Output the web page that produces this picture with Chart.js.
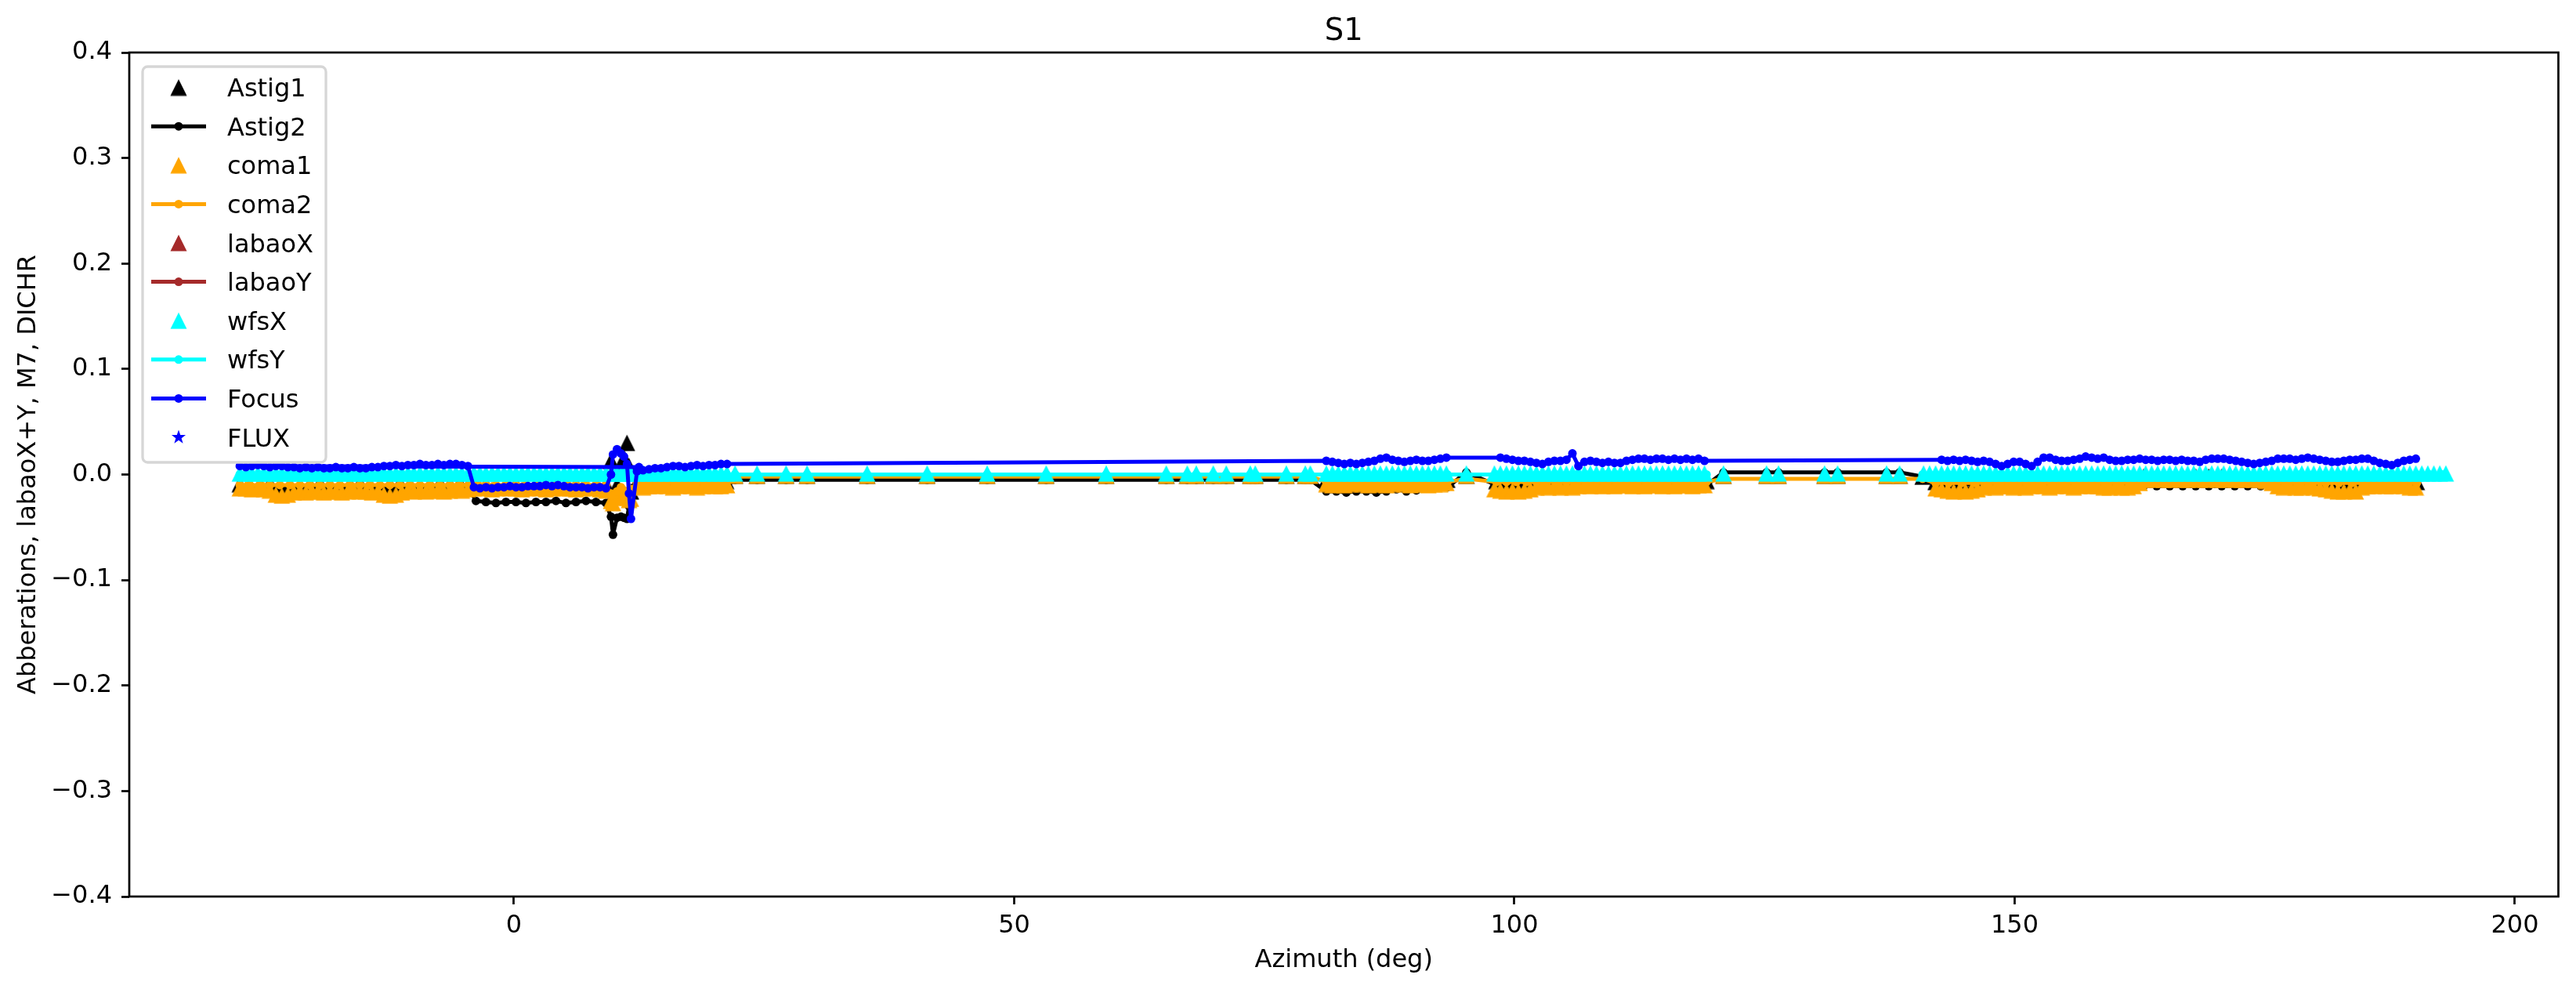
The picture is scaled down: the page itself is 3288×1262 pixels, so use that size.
<!DOCTYPE html>
<html><head><meta charset="utf-8">
<script src="https://cdn.jsdelivr.net/npm/chart.js@4/dist/chart.umd.min.js"></script>
<style>html,body{margin:0;padding:0;background:#fff}canvas{display:block}</style>
</head><body>
<canvas id="c" width="3288" height="1262"></canvas>
<script>
// ---------------- DATA ----------------
const chartTitle = 'S1';
const xAxisLabel = 'Azimuth (deg)';
const yAxisLabel = 'Abberations, labaoX+Y, M7, DICHR';
const seriesNames = ['Astig1','Astig2','coma1','coma2','labaoX','labaoY','wfsX','wfsY','Focus','FLUX'];
const xTicks = [0, 50, 100, 150, 200];
const yTicks = [-0.4, -0.3, -0.2, -0.1, 0, 0.1, 0.2, 0.3, 0.4];

// dense, time-ordered azimuth samples (deg) used by coma1, wfsX and Focus
const azDense = [
 12.5,
 -27.4,-26.8,-26.2,-25.6,-25.0,-24.4,-23.8,-23.2,-22.6,-22.0,-21.4,-20.8,-20.2,-19.6,-19.0,-18.4,-17.8,-17.2,-16.6,-16.0,
 -15.4,-14.8,-14.2,-13.6,-13.0,-12.4,-11.8,-11.2,-10.6,-10.0,-9.4,-8.8,-8.2,-7.6,-7.0,-6.4,-5.8,-5.2,-4.6,
 -4.0,-3.4,-2.8,-2.2,-1.6,-1.0,-0.4,0.2,0.8,1.4,2.0,2.6,3.2,3.8,4.4,5.0,5.6,6.2,6.8,7.4,8.0,8.6,9.2,
 9.7,9.9,10.3,10.7,11.0,11.3,11.5,11.7,
 12.3,12.9,13.5,14.1,14.7,15.3,15.9,16.5,17.1,17.7,18.3,18.9,19.5,20.1,20.7,21.3,
 22.1,24.3,27.2,29.3,35.3,41.3,47.3,53.2,59.2,65.2,67.3,68.2,69.9,71.2,73.6,74.1,77.2,79.1,79.6,
 81.2,81.8,82.4,83.0,83.6,84.2,84.8,85.4,86.0,86.6,87.2,87.8,88.4,89.0,89.6,90.2,90.8,91.4,92.0,92.6,93.2,
 95.2,
 98.0,98.6,99.2,99.8,100.4,101.0,101.6,102.2,102.8,103.4,104.0,104.6,105.2,105.8,106.4,107.0,107.6,108.2,108.8,109.4,
 110.0,110.6,111.2,111.8,112.4,113.0,113.6,114.2,114.8,115.4,116.0,116.6,117.2,117.8,118.4,119.0,
 120.9,125.2,126.4,131.0,132.3,137.2,138.5,
 140.9,141.5,142.1,142.7,143.3,143.9,144.5,145.1,145.7,146.3,146.9,147.5,148.1,148.7,149.3,149.9,150.5,151.1,151.7,152.3,
 152.9,153.5,154.1,154.7,155.3,155.9,156.5,157.1,157.7,158.3,158.9,159.5,160.1,160.7,161.3,161.9,162.5,163.1,163.7,164.3,
 164.9,165.5,166.1,166.7,167.3,167.9,168.5,169.1,169.7,170.3,170.9,171.5,172.1,172.7,173.3,173.9,174.5,175.1,175.7,176.3,
 176.9,177.5,178.1,178.7,179.3,179.9,180.5,181.1,181.7,182.3,182.9,183.5,184.1,184.7,185.3,185.9,186.5,187.1,187.7,188.3,
 188.9,189.5,190.1,190.7,191.3,191.9,192.5,193.1
];
const coma1 = [
 null,
 -0.013,-0.013,-0.014,-0.013,-0.014,-0.015,-0.019,-0.020,-0.019,-0.017,-0.016,-0.017,-0.016,-0.016,-0.017,-0.016,-0.016,-0.017,-0.016,-0.015,
 -0.016,-0.016,-0.017,-0.016,-0.019,-0.020,-0.019,-0.017,-0.015,-0.016,-0.015,-0.016,-0.015,-0.015,-0.016,-0.015,-0.014,-0.015,-0.014,
 -0.013,-0.012,-0.013,-0.014,-0.013,-0.012,-0.013,-0.013,-0.014,-0.013,-0.012,-0.013,-0.014,-0.013,-0.012,-0.013,-0.013,-0.014,-0.013,-0.012,-0.013,-0.014,-0.015,
 -0.025,-0.027,-0.022,-0.016,-0.020,-0.022,-0.024,-0.023,
 -0.011,-0.012,-0.011,-0.011,-0.010,-0.011,-0.012,-0.011,-0.010,-0.011,-0.012,-0.011,-0.010,-0.011,-0.011,-0.010,
 -0.001,-0.001,-0.001,-0.001,-0.001,-0.001,-0.001,-0.001,-0.001,-0.001,-0.001,-0.001,-0.001,-0.001,-0.001,-0.001,-0.001,-0.001,-0.001,
 -0.009,-0.010,-0.009,-0.010,-0.009,-0.008,-0.009,-0.010,-0.009,-0.009,-0.010,-0.009,-0.008,-0.009,-0.010,-0.009,-0.009,-0.010,-0.009,-0.009,-0.008,
 -0.001,
 -0.014,-0.015,-0.016,-0.015,-0.016,-0.015,-0.014,-0.012,-0.011,-0.012,-0.011,-0.012,-0.011,-0.012,-0.011,-0.010,-0.011,-0.010,-0.011,-0.010,
 -0.011,-0.010,-0.010,-0.011,-0.010,-0.011,-0.010,-0.010,-0.011,-0.010,-0.011,-0.010,-0.010,-0.011,-0.010,-0.010,
 -0.001,-0.001,-0.001,-0.001,-0.001,-0.001,-0.001,
 null,null,-0.013,-0.014,-0.015,-0.016,-0.015,-0.016,-0.015,-0.014,-0.012,-0.011,-0.012,-0.011,-0.011,-0.012,-0.011,-0.012,-0.011,-0.010,
 -0.011,-0.012,-0.011,-0.010,-0.011,-0.012,-0.011,-0.010,-0.011,-0.011,-0.012,-0.012,-0.011,-0.012,-0.012,-0.011,-0.008,-0.005,-0.005,-0.004,
 -0.005,-0.005,-0.004,-0.005,-0.005,-0.004,-0.005,-0.005,-0.004,-0.005,-0.005,-0.004,-0.005,-0.005,-0.004,-0.005,-0.005,-0.006,-0.008,-0.011,
 -0.012,-0.011,-0.012,-0.012,-0.011,-0.012,-0.013,-0.014,-0.015,-0.016,-0.016,-0.015,-0.016,-0.012,-0.011,-0.011,-0.010,-0.011,-0.011,-0.010,
 -0.011,-0.012,-0.012,null,null,null,null,null
];
const wfsX = [
 null,
 0.001,0.001,0.001,0.001,0.001,0.001,0.001,0.001,0.001,0.001,0.001,0.001,0.001,0.001,0.001,0.001,0.001,0.001,0.001,0.001,
 0.001,0.001,0.001,0.001,0.001,0.001,0.001,0.001,0.001,0.001,0.001,0.001,0.001,0.001,0.001,0.001,0.001,0.001,0.001,
 0.001,0.001,0.001,0.001,0.001,0.001,0.001,0.001,0.001,0.001,0.001,0.001,0.001,0.001,0.001,0.001,0.001,0.001,0.001,0.001,0.001,0.001,0.001,
 0.001,0.001,0.001,0.001,0.001,0.001,0.001,0.001,
 0.001,0.001,0.001,0.001,0.001,0.001,0.001,0.001,0.001,0.001,0.001,0.001,0.001,0.001,0.001,0.001,
 0.001,0.001,0.001,0.001,0.001,0.001,0.001,0.001,0.001,0.001,0.001,0.001,0.001,0.001,0.001,0.001,0.001,0.001,0.001,
 0.001,0.001,0.001,0.001,0.001,0.001,0.001,0.001,0.001,0.001,0.001,0.001,0.001,0.001,0.001,0.001,0.001,0.001,0.001,0.001,0.001,
 0.001,
 0.001,0.001,0.001,0.001,0.001,0.001,0.001,0.001,0.001,0.001,0.001,0.001,0.001,0.001,0.001,0.001,0.001,0.001,0.001,0.001,
 0.001,0.001,0.001,0.001,0.001,0.001,0.001,0.001,0.001,0.001,0.001,0.001,0.001,0.001,0.001,0.001,
 0.001,0.001,0.001,0.001,0.001,0.001,0.001,
 0.001,0.001,0.001,0.001,0.001,0.001,0.001,0.001,0.001,0.001,0.001,0.001,0.001,0.001,0.001,0.001,0.001,0.001,0.001,0.001,
 0.001,0.001,0.001,0.001,0.001,0.001,0.001,0.001,0.001,0.001,0.001,0.001,0.001,0.001,0.001,0.001,0.001,0.001,0.001,0.001,
 0.001,0.001,0.001,0.001,0.001,0.001,0.001,0.001,0.001,0.001,0.001,0.001,0.001,0.001,0.001,0.001,0.001,0.001,0.001,0.001,
 0.001,0.001,0.001,0.001,0.001,0.001,0.001,0.001,0.001,0.001,0.001,0.001,0.001,0.001,0.001,0.001,0.001,0.001,0.001,0.001,
 0.001,0.001,0.001,0.001,0.001,0.001,0.001,0.001
];
const focus = [
 0.007,
 0.008,0.007,0.008,0.009,0.008,0.007,0.008,0.008,0.007,0.007,0.006,0.007,0.006,0.007,0.006,0.006,0.007,0.006,0.006,0.007,
 0.006,0.006,0.007,0.007,0.008,0.008,0.009,0.008,0.009,0.009,0.010,0.009,0.009,0.010,0.009,0.010,0.010,0.009,0.008,
 -0.012,-0.013,-0.012,-0.013,-0.012,-0.012,-0.011,-0.012,-0.012,-0.011,-0.011,-0.011,-0.010,-0.011,-0.010,-0.011,-0.012,-0.012,-0.012,-0.013,-0.012,-0.012,-0.013,
 0.000,0.019,0.024,0.020,0.017,0.010,-0.018,-0.042,
 0.003,0.004,0.005,0.006,0.006,0.007,0.008,0.008,0.007,0.008,0.009,0.008,0.009,0.009,0.010,0.010,
 null,null,null,null,null,null,null,null,null,null,null,null,null,null,null,null,null,null,null,
 0.013,0.012,0.011,0.010,0.011,0.010,0.011,0.012,0.013,0.015,0.016,0.014,0.013,0.012,0.013,0.014,0.013,0.013,0.014,0.015,0.016,
 null,
 null,0.016,0.015,0.014,0.013,0.013,0.012,0.011,0.010,0.012,0.013,0.013,0.014,0.020,0.008,0.012,0.013,0.012,0.011,0.012,
 0.011,0.011,0.013,0.014,0.015,0.015,0.014,0.015,0.015,0.014,0.015,0.014,0.015,0.014,0.015,0.013,
 null,null,null,null,null,null,null,
 null,null,null,0.014,0.013,0.014,0.013,0.014,0.013,0.012,0.013,0.012,0.010,0.008,0.010,0.012,0.012,0.010,0.008,0.012,
 0.016,0.016,0.014,0.013,0.013,0.014,0.015,0.017,0.016,0.015,0.016,0.014,0.013,0.013,0.014,0.014,0.015,0.014,0.014,0.013,
 0.014,0.014,0.013,0.014,0.013,0.013,0.012,0.014,0.015,0.015,0.015,0.014,0.013,0.012,0.011,0.010,0.011,0.012,0.013,0.015,
 0.015,0.015,0.014,0.015,0.016,0.015,0.014,0.013,0.012,0.012,0.013,0.014,0.014,0.015,0.015,0.013,0.011,0.010,0.009,0.011,
 0.013,0.014,0.015,null,null,null,null,null
];

// sparser, time-ordered azimuth samples (deg) used by Astig1, Astig2, coma2, wfsY
const azimuth = [
 -27.4,-26.4,-25.4,-24.4,-23.4,-22.4,-21.4,-20.4,-19.4,-18.4,-17.4,-16.4,-15.4,-14.4,-13.4,-12.4,-11.4,-10.4,-9.4,-8.4,-7.4,-6.4,-5.4,-4.5,
 -3.8,-2.8,-1.8,-0.8,0.2,1.2,2.2,3.2,4.2,5.2,6.2,7.2,8.2,9.2,
 9.7,9.9,10.3,10.7,11.0,11.3,11.5,11.7,
 12.3,13.2,14.2,15.2,16.2,17.2,18.2,19.2,20.2,21.2,
 22.1,24.3,27.2,29.3,35.3,41.3,47.3,53.2,59.2,65.2,67.3,68.2,69.9,71.2,73.6,74.1,77.2,79.1,79.6,
 81.2,82.2,83.2,84.2,85.2,86.2,87.2,88.2,89.2,90.2,91.2,92.2,93.3,
 95.2,
 98.2,99.2,100.2,101.2,102.2,103.2,104.2,105.2,106.2,107.2,108.2,109.2,110.2,111.2,112.2,113.2,114.2,115.2,116.2,117.2,118.2,119.2,
 120.9,125.2,126.4,131.0,132.3,137.2,138.5,
 140.8,142.1,143.4,144.7,146.0,147.3,148.6,149.9,151.2,152.5,153.8,155.1,156.4,157.7,159.0,160.3,161.6,162.9,164.2,165.5,
 166.8,168.1,169.4,170.7,172.0,173.3,174.6,175.9,177.2,178.5,179.8,181.1,182.4,183.7,185.0,186.3,187.6,188.9,190.2,191.5,192.8
];
const astig1 = [
 -0.009,-0.010,-0.009,-0.008,-0.010,-0.009,-0.010,-0.009,-0.008,-0.009,-0.010,-0.009,-0.008,-0.009,-0.010,-0.009,-0.008,-0.009,-0.010,-0.009,-0.008,-0.009,-0.008,-0.009,
 -0.009,-0.009,-0.010,-0.009,-0.009,-0.010,-0.009,-0.009,-0.010,-0.009,-0.009,-0.010,-0.009,-0.009,
 0.013,-0.020,-0.010,0.002,0.016,0.030,0.008,-0.016,
 -0.007,-0.007,-0.006,-0.007,-0.007,-0.006,-0.007,-0.007,-0.006,-0.006,
 -0.001,-0.001,-0.001,-0.001,-0.001,-0.001,-0.001,-0.001,-0.001,-0.001,-0.001,-0.001,-0.001,-0.001,-0.001,-0.001,-0.001,-0.001,-0.001,
 -0.005,-0.005,-0.005,-0.005,-0.005,-0.005,-0.005,-0.005,-0.005,-0.005,-0.005,-0.005,-0.005,
 -0.001,
 -0.006,-0.006,-0.006,-0.006,-0.006,-0.006,-0.006,-0.006,-0.006,-0.006,-0.006,-0.006,-0.006,-0.006,-0.006,-0.006,-0.006,-0.006,-0.006,-0.006,-0.006,-0.006,
 -0.001,-0.001,-0.001,-0.001,-0.001,-0.001,-0.001,
 -0.002,-0.007,-0.007,-0.007,-0.007,-0.007,-0.007,-0.007,-0.007,-0.007,-0.007,-0.007,-0.007,-0.007,-0.007,-0.007,-0.007,-0.002,-0.002,-0.002,
 -0.002,-0.002,-0.002,-0.002,-0.002,-0.002,-0.002,-0.007,-0.007,-0.007,-0.007,-0.007,-0.007,-0.007,-0.007,-0.007,-0.007,-0.007,-0.007,null,null
];
const astig2 = [
 -0.015,-0.015,-0.016,-0.015,-0.016,-0.016,-0.015,-0.016,-0.015,-0.016,-0.015,-0.016,-0.015,-0.015,-0.016,-0.016,-0.015,-0.015,-0.015,-0.014,-0.015,-0.014,-0.014,-0.013,
 -0.025,-0.026,-0.027,-0.026,-0.026,-0.027,-0.026,-0.026,-0.025,-0.027,-0.026,-0.025,-0.026,-0.027,
 -0.040,-0.057,-0.041,-0.040,-0.041,-0.042,-0.030,-0.016,
 -0.012,-0.012,-0.011,-0.012,-0.011,-0.012,-0.011,-0.012,-0.011,-0.011,
 -0.005,-0.005,-0.005,-0.005,-0.005,-0.005,-0.005,-0.005,-0.005,-0.005,-0.005,-0.005,-0.005,-0.005,-0.005,-0.005,-0.005,-0.005,-0.005,
 -0.016,-0.016,-0.017,-0.016,-0.016,-0.017,-0.016,-0.014,-0.016,-0.015,-0.013,-0.012,-0.012,
 0.002,
 -0.010,-0.010,-0.010,-0.010,-0.010,-0.010,-0.010,-0.010,-0.010,-0.010,-0.010,-0.010,-0.010,-0.010,-0.010,-0.010,-0.010,-0.010,-0.010,-0.010,-0.010,-0.010,
 0.002,0.002,0.002,0.002,0.002,0.002,0.002,
 -0.002,-0.009,-0.009,-0.009,-0.009,-0.009,-0.009,-0.009,-0.009,-0.009,-0.009,-0.009,-0.009,-0.009,-0.009,-0.009,-0.009,-0.011,-0.011,-0.011,
 -0.011,-0.011,-0.011,-0.011,-0.011,-0.011,-0.011,-0.009,-0.009,-0.009,-0.009,-0.009,-0.009,-0.009,-0.009,-0.009,-0.009,-0.009,-0.009,null,null
];
const coma2 = [
 -0.010,-0.010,-0.010,-0.010,-0.010,-0.010,-0.010,-0.010,-0.010,-0.010,-0.010,-0.010,-0.010,-0.010,-0.010,-0.010,-0.010,-0.010,-0.010,-0.010,-0.010,-0.010,-0.010,-0.010,
 -0.010,-0.010,-0.010,-0.010,-0.010,-0.010,-0.010,-0.010,-0.010,-0.010,-0.010,-0.010,-0.010,-0.010,
 -0.018,-0.020,-0.016,-0.012,-0.015,-0.017,-0.018,-0.014,
 -0.008,-0.008,-0.008,-0.008,-0.008,-0.008,-0.008,-0.008,-0.008,-0.008,
 -0.002,-0.002,-0.002,-0.002,-0.002,-0.002,-0.002,-0.002,-0.002,-0.002,-0.002,-0.002,-0.002,-0.002,-0.002,-0.002,-0.002,-0.002,-0.002,
 -0.007,-0.007,-0.007,-0.007,-0.007,-0.007,-0.007,-0.007,-0.007,-0.007,-0.007,-0.007,-0.007,
 -0.004,
 -0.007,-0.007,-0.007,-0.007,-0.007,-0.007,-0.007,-0.007,-0.007,-0.007,-0.007,-0.007,-0.007,-0.007,-0.007,-0.007,-0.007,-0.007,-0.007,-0.007,-0.007,-0.007,
 -0.004,-0.004,-0.004,-0.004,-0.004,-0.004,-0.004,
 -0.004,-0.008,-0.008,-0.008,-0.008,-0.008,-0.008,-0.008,-0.008,-0.008,-0.008,-0.008,-0.008,-0.008,-0.008,-0.008,-0.008,-0.004,-0.004,-0.004,
 -0.004,-0.004,-0.004,-0.004,-0.004,-0.004,-0.004,-0.008,-0.008,-0.008,-0.008,-0.008,-0.008,-0.008,-0.008,-0.008,-0.008,-0.008,-0.008,null,null
];
const wfsY = [
 0,0,0,0,0,0,0,0,0,0,0,0,0,0,0,0,0,0,0,0,0,0,0,0,
 0,0,0,0,0,0,0,0,0,0,0,0,0,0,
 0,0,0,0,0,0,0,0,
 0,0,0,0,0,0,0,0,0,0,
 0,0,0,0,0,0,0,0,0,0,0,0,0,0,0,0,0,0,0,
 0,0,0,0,0,0,0,0,0,0,0,0,0,
 0,
 0,0,0,0,0,0,0,0,0,0,0,0,0,0,0,0,0,0,0,0,0,0,
 null,null,null,null,null,null,null,
 0,0,0,0,0,0,0,0,0,0,0,0,0,0,0,0,0,0,0,0,
 0,0,0,0,0,0,0,0,0,0,0,0,0,0,0,0,0,0,0,0,0
];
const labaoX = [];   // no visible marks in the reference
const labaoY = [];
const flux = [];

// ---------------- STYLE ----------------
const FONT = 'DejaVu Sans';
const C = {black:'#000000', orange:'#FFA500', brown:'#A52A2A', cyan:'#00FFFF', blue:'#0000FF'};

function triangle(color){
  const c = document.createElement('canvas'); c.width = 22; c.height = 22;
  const g = c.getContext('2d'); g.fillStyle = color;
  g.beginPath(); g.moveTo(11, 0.5); g.lineTo(21.5, 21.5); g.lineTo(0.5, 21.5); g.closePath(); g.fill();
  return c;
}
function pts(xs, ys){ return ys.length ? xs.map((x, i) => ({x: x, y: ys[i]})) : []; }

function markerSet(label, xs, ys, color, order){
  return {label, data: pts(xs, ys), showLine:false, pointStyle: triangle(color), pointRadius: 10,
          backgroundColor: color, borderColor: color, order};
}
function lineSet(label, xs, ys, color, order, span){
  return {label, data: pts(xs, ys), showLine:true, borderColor: color, backgroundColor: color, borderWidth: 5,
          pointRadius: 5.5, pointBorderWidth: 0, pointBackgroundColor: color, pointStyle:'circle',
          spanGaps: span, borderJoinStyle:'round', borderCapStyle:'round', order};
}

const legendKinds = [
  ['tri', C.black], ['line', C.black], ['tri', C.orange], ['line', C.orange], ['tri', C.brown],
  ['line', C.brown], ['tri', C.cyan], ['line', C.cyan], ['line', C.blue], ['star', C.blue]
];

const decor = {
  id: 'decor',
  afterDraw(chart){
    const {ctx, chartArea: a} = chart;
    ctx.save();
    ctx.strokeStyle = '#000'; ctx.lineWidth = 2.7;
    ctx.strokeRect(a.left, a.top, a.right - a.left, a.bottom - a.top);
    ctx.fillStyle = '#000'; ctx.font = `38.4px "${FONT}"`;
    ctx.textAlign = 'center'; ctx.textBaseline = 'alphabetic';
    ctx.fillText(chartTitle, (a.left + a.right) / 2, 51);
    const bx = 182, by = 85, bw = 234, bh = 505;
    ctx.beginPath(); ctx.roundRect(bx, by, bw, bh, 6.4);
    ctx.globalAlpha = 0.8; ctx.fillStyle = '#fff'; ctx.fill(); ctx.globalAlpha = 1;
    ctx.lineWidth = 3.3; ctx.strokeStyle = '#d6d6d6'; ctx.stroke();
    ctx.font = `32px "${FONT}"`; ctx.textAlign = 'left';
    seriesNames.forEach((name, i) => {
      const y = 111.6 + i * 49.6, mx = 228;
      const [kind, col] = legendKinds[i];
      if (kind === 'tri') {
        ctx.drawImage(triangle(col), mx - 11, y - 11);
      } else if (kind === 'line') {
        ctx.strokeStyle = col; ctx.lineWidth = 5; ctx.lineCap = 'butt';
        ctx.beginPath(); ctx.moveTo(193, y); ctx.lineTo(263, y); ctx.stroke();
        ctx.fillStyle = col; ctx.beginPath(); ctx.arc(mx, y, 5.5, 0, Math.PI * 2); ctx.fill();
      } else {
        ctx.fillStyle = col; ctx.beginPath();
        for (let k = 0; k < 10; k++) {
          const r = k % 2 ? 3.8 : 9.5, ang = -Math.PI / 2 + k * Math.PI / 5;
          const px = mx + r * Math.cos(ang), py = y + r * Math.sin(ang);
          k ? ctx.lineTo(px, py) : ctx.moveTo(px, py);
        }
        ctx.closePath(); ctx.fill();
      }
      ctx.fillStyle = '#000';
      ctx.fillText(name, 290, y + 11.6);
    });
    ctx.restore();
  }
};

const tickFont = {family: FONT, size: 32};
new Chart(document.getElementById('c'), {
  type: 'scatter',
  data: {
    datasets: [
      markerSet(seriesNames[0], azimuth, astig1, C.black, 10),
      lineSet(seriesNames[1], azimuth, astig2, C.black, 9, true),
      markerSet(seriesNames[2], azDense, coma1, C.orange, 8),
      lineSet(seriesNames[3], azimuth, coma2, C.orange, 7, true),
      markerSet(seriesNames[4], azimuth, labaoX, C.brown, 6),
      lineSet(seriesNames[5], azimuth, labaoY, C.brown, 5, true),
      markerSet(seriesNames[6], azDense, wfsX, C.cyan, 4),
      lineSet(seriesNames[7], azimuth, wfsY, C.cyan, 3, false),
      lineSet(seriesNames[8], azDense, focus, C.blue, 2, true),
      {label: seriesNames[9], data: pts(azimuth, flux), showLine:false, pointStyle:'star',
       pointRadius: 9, borderColor: C.blue, backgroundColor: C.blue, order: 1}
    ]
  },
  options: {
    responsive: false, animation: false, devicePixelRatio: 1, events: [],
    layout: {padding: {left: 0, top: 67, right: 22.5, bottom: 0}},
    plugins: {legend: {display: false}, title: {display: false}, tooltip: {enabled: false}},
    scales: {
      x: {
        type: 'linear', min: -38.45, max: 204.35,
        afterBuildTicks: s => { s.ticks = xTicks.map(v => ({value: v})); },
        afterFit: s => { s.height = 118; },
        border: {display: false},
        grid: {display: true, drawOnChartArea: false, drawTicks: true, tickLength: 10, tickWidth: 2.7, tickColor: '#000'},
        ticks: {color: '#000', font: tickFont, padding: 8, maxRotation: 0, autoSkip: false, callback: v => String(v)},
        title: {display: true, text: xAxisLabel, color: '#000', font: tickFont, padding: {top: 0, bottom: 17}}
      },
      y: {
        type: 'linear', min: -0.4, max: 0.4,
        afterBuildTicks: s => { s.ticks = yTicks.map(v => ({value: v})); },
        afterFit: s => { s.width = 165; },
        border: {display: false},
        grid: {display: true, drawOnChartArea: false, drawTicks: true, tickLength: 10, tickWidth: 2.7, tickColor: '#000'},
        ticks: {color: '#000', font: tickFont, padding: 12, autoSkip: false,
                callback: v => (v < 0 ? '\u2212' : '') + Math.abs(v).toFixed(1)},
        title: {display: true, text: yAxisLabel, color: '#000', font: tickFont, padding: {top: 17, bottom: 0}}
      }
    }
  },
  plugins: [decor]
});
</script>
</body></html>
